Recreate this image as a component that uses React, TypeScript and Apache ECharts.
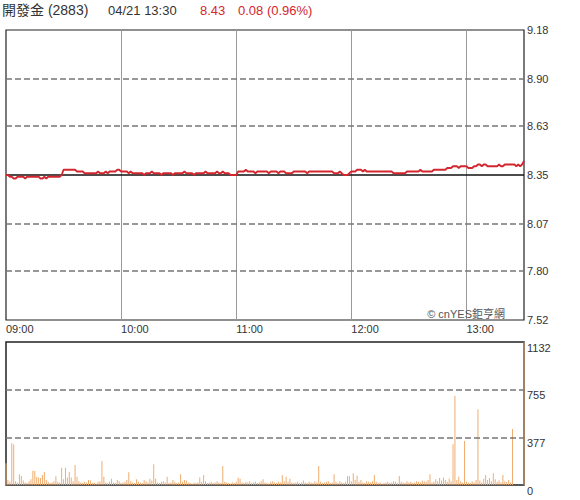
import React, { useEffect, useRef } from 'react';
import * as echarts from 'echarts';

const stockName = '開發金 (2883)';
const quoteTime = '04/21 13:30';
const lastPrice = '8.43';
const changeText = '0.08 (0.96%)';
const watermark = '© cnYES鉅亨網';

const timeLabels = ['09:00', '10:00', '11:00', '12:00', '13:00'];
const priceTicks = [9.18, 8.9, 8.63, 8.35, 8.07, 7.8, 7.52];
const prevClose = 8.35;
const volumeTicks = [0, 377, 755, 1132];

// one value per minute, 09:00 .. 13:30
const prices = [
  8.35, 8.35, 8.34, 8.34, 8.33, 8.33, 8.34, 8.34, 8.34, 8.34,
  8.33, 8.34, 8.34, 8.34, 8.34, 8.34, 8.34, 8.34, 8.33, 8.33,
  8.34, 8.33, 8.34, 8.34, 8.34, 8.34, 8.34, 8.34, 8.34, 8.35,
  8.38, 8.38, 8.38, 8.38, 8.38, 8.38, 8.38, 8.37, 8.37, 8.37,
  8.37, 8.36, 8.36, 8.36, 8.36, 8.36, 8.36, 8.36, 8.37, 8.36,
  8.36, 8.36, 8.37, 8.36, 8.37, 8.37, 8.37, 8.37, 8.38, 8.38,
  8.37, 8.37, 8.37, 8.37, 8.36, 8.37, 8.36, 8.36, 8.36, 8.36,
  8.36, 8.36, 8.35, 8.36, 8.36, 8.36, 8.37, 8.36, 8.36, 8.36,
  8.36, 8.35, 8.36, 8.36, 8.36, 8.36, 8.36, 8.35, 8.36, 8.36,
  8.36, 8.36, 8.36, 8.37, 8.36, 8.36, 8.36, 8.36, 8.35, 8.36,
  8.36, 8.36, 8.36, 8.36, 8.37, 8.36, 8.36, 8.36, 8.36, 8.36,
  8.37, 8.36, 8.36, 8.37, 8.36, 8.36, 8.36, 8.35, 8.35, 8.35,
  8.35, 8.37, 8.37, 8.37, 8.37, 8.38, 8.37, 8.37, 8.37, 8.37,
  8.36, 8.37, 8.37, 8.37, 8.37, 8.37, 8.37, 8.36, 8.37, 8.37,
  8.37, 8.37, 8.36, 8.37, 8.37, 8.37, 8.36, 8.36, 8.36, 8.36,
  8.37, 8.37, 8.37, 8.37, 8.37, 8.37, 8.37, 8.36, 8.37, 8.37,
  8.37, 8.37, 8.37, 8.37, 8.37, 8.37, 8.37, 8.37, 8.37, 8.37,
  8.37, 8.36, 8.36, 8.36, 8.37, 8.36, 8.35, 8.35, 8.35, 8.36,
  8.37, 8.37, 8.37, 8.38, 8.38, 8.38, 8.37, 8.38, 8.37, 8.37,
  8.37, 8.37, 8.37, 8.37, 8.37, 8.37, 8.37, 8.37, 8.37, 8.37,
  8.37, 8.37, 8.36, 8.36, 8.36, 8.36, 8.36, 8.36, 8.36, 8.37,
  8.37, 8.37, 8.37, 8.37, 8.37, 8.37, 8.38, 8.37, 8.37, 8.37,
  8.37, 8.37, 8.37, 8.38, 8.38, 8.38, 8.38, 8.38, 8.38, 8.38,
  8.39, 8.39, 8.39, 8.40, 8.40, 8.40, 8.39, 8.40, 8.40, 8.40,
  8.40, 8.39, 8.39, 8.39, 8.40, 8.40, 8.41, 8.41, 8.40, 8.41,
  8.41, 8.40, 8.40, 8.40, 8.40, 8.40, 8.40, 8.41, 8.40, 8.40,
  8.41, 8.41, 8.41, 8.41, 8.41, 8.41, 8.40, 8.41, 8.40, 8.41,
  8.43,
];

const volumes = [
  172, 40, 25, 330, 320, 30, 20, 85, 71, 35,
  20, 15, 30, 45, 113, 110, 63, 60, 55, 79,
  103, 40, 25, 15, 20, 30, 70, 25, 20, 137,
  45, 137, 60, 103, 60, 30, 158, 65, 30, 20,
  15, 25, 20, 40, 35, 15, 20, 10, 25, 30,
  190, 65, 20, 15, 25, 50, 20, 15, 40, 30,
  15, 20, 25, 40, 100, 30, 20, 15, 45, 25,
  20, 15, 40, 30, 20, 50, 35, 164, 50, 20,
  15, 25, 30, 20, 65, 15, 20, 40, 25, 15,
  20, 85, 25, 40, 35, 20, 15, 10, 20, 15,
  20, 60, 25, 79, 30, 15, 20, 25, 15, 20,
  30, 20, 15, 150, 25, 20, 15, 10, 20, 15,
  25, 60, 50, 20, 15, 25, 20, 30, 15, 20,
  25, 15, 20, 30, 45, 20, 15, 10, 25, 30,
  20, 15, 25, 20, 80, 30, 65, 25, 50, 20,
  15, 20, 25, 15, 20, 35, 20, 15, 25, 20,
  15, 30, 20, 150, 25, 15, 20, 25, 30, 15,
  20, 85, 25, 15, 30, 20, 15, 25, 70, 70,
  30, 93, 40, 74, 25, 40, 20, 15, 30, 25,
  20, 30, 79, 25, 15, 20, 10, 15, 20, 25,
  15, 20, 30, 25, 15, 71, 25, 20, 15, 30,
  20, 25, 15, 20, 30, 25, 20, 35, 30, 25,
  40, 85, 20, 25, 45, 30, 55, 35, 60, 40,
  25, 50, 30, 322, 707, 40, 65, 30, 20, 348,
  25, 20, 15, 30, 20, 40, 600, 35, 20, 50,
  80, 40, 55, 30, 93, 45, 25, 35, 20, 80,
  30, 25, 40, 20, 443, 0, 0, 0, 0, 0,
  1132,
];

const FONT = '"Liberation Sans", Arial, "Noto Sans CJK TC", sans-serif';
const RED = '#d3262e';
const TEXT = '#333';

export default function App() {
  const ref = useRef<HTMLDivElement>(null);

  useEffect(() => {
    if (!ref.current) return;
    const chart = echarts.init(ref.current, undefined, { renderer: 'svg' });
    const lastIdx = prices.length - 1;

    const dashed = { color: '#777', type: [6, 3] as any, width: 1.5 };

    const option: any = {
      animation: false,
      textStyle: { fontFamily: FONT },
      grid: [
        { left: 6, top: 30, right: 56, height: 290, show: true, borderColor: '#222', borderWidth: 1.2, backgroundColor: 'transparent' },
        { left: 6, top: 342, right: 56, height: 143, show: true, borderColor: '#222', borderWidth: 1.5, backgroundColor: 'transparent' },
      ],
      xAxis: [
        {
          type: 'value', gridIndex: 0, min: 0, max: lastIdx, interval: 60,
          axisLine: { show: false }, axisTick: { show: false },
          axisLabel: {
            show: true, align: 'left', margin: 3, color: TEXT, fontSize: 11, fontFamily: FONT,
            showMaxLabel: false,
            formatter: (v: number) => (v % 60 === 0 && timeLabels[v / 60]) || '',
          },
          splitLine: { show: true, showMinLine: false, showMaxLine: false, lineStyle: { color: '#999', width: 1 } },
        },
        {
          type: 'value', gridIndex: 1, min: 0, max: lastIdx, interval: 60,
          axisLine: { show: false }, axisTick: { show: false }, axisLabel: { show: false }, splitLine: { show: false },
        },
      ],
      yAxis: [
        {
          type: 'value', gridIndex: 0, position: 'right', min: 7.52, max: 9.18,
          axisLine: { show: false }, axisTick: { show: false }, splitLine: { show: false },
          axisLabel: {
            customValues: priceTicks, margin: 3, color: TEXT, fontSize: 11, fontFamily: FONT,
            padding: [0, 0, 4, 0],
            formatter: (v: number) => v.toFixed(2),
          },
        },
        {
          type: 'value', gridIndex: 1, position: 'right', min: 0, max: 1132,
          axisLine: { show: false }, axisTick: { show: false }, splitLine: { show: false },
          axisLabel: {
            customValues: volumeTicks, margin: 3, color: TEXT, fontSize: 11, fontFamily: FONT, verticalAlign: 'top',
            formatter: (v: number) => String(Math.round(v)),
          },
        },
      ],
      series: [
        {
          type: 'line', xAxisIndex: 0, yAxisIndex: 0, showSymbol: false, z: 3,
          data: prices.map((p, i) => [i, p]),
          lineStyle: { color: RED, width: 1.8 },
          markLine: {
            silent: true, symbol: ['none', 'none'], z: 1, label: { show: false },
            data: priceTicks
              .filter((t) => t !== priceTicks[0] && t !== priceTicks[priceTicks.length - 1])
              .map((t) => ({
                yAxis: t,
                lineStyle: t === prevClose ? { color: '#111', type: 'solid', width: 1.5 } : dashed,
              })),
          },
        },
        {
          type: 'bar', xAxisIndex: 1, yAxisIndex: 1, barWidth: 1,
          data: volumes.map((v, i) => [i, v]),
          itemStyle: { color: '#f0ad70' },
          markLine: {
            silent: true, symbol: ['none', 'none'], label: { show: false },
            data: volumeTicks
              .filter((t) => t !== volumeTicks[0] && t !== volumeTicks[volumeTicks.length - 1])
              .map((t) => ({ yAxis: t, lineStyle: dashed })),
          },
        },
      ],
      graphic: [
        { type: 'text', x: 2, y: 10, style: { text: stockName, fill: TEXT, fontSize: 14, fontFamily: FONT, verticalAlign: 'middle' } },
        { type: 'text', x: 108, y: 10, style: { text: quoteTime, fill: TEXT, fontSize: 13, fontFamily: FONT, verticalAlign: 'middle' } },
        { type: 'text', x: 200, y: 10, style: { text: lastPrice, fill: RED, fontSize: 13, fontFamily: FONT, verticalAlign: 'middle' } },
        { type: 'text', x: 238, y: 10, style: { text: changeText, fill: RED, fontSize: 13, fontFamily: FONT, verticalAlign: 'middle' } },
        { type: 'text', x: 505, y: 314, z: 10, style: { text: watermark, fill: '#555', fontSize: 11, fontFamily: FONT, align: 'right', verticalAlign: 'middle' } },
      ],
    };

    chart.setOption(option);
    return () => chart.dispose();
  }, []);

  return (
    <div
      ref={ref}
      style={{ position: 'fixed', left: 0, top: 0, width: 580, height: 500, background: '#fff' }}
    />
  );
}
